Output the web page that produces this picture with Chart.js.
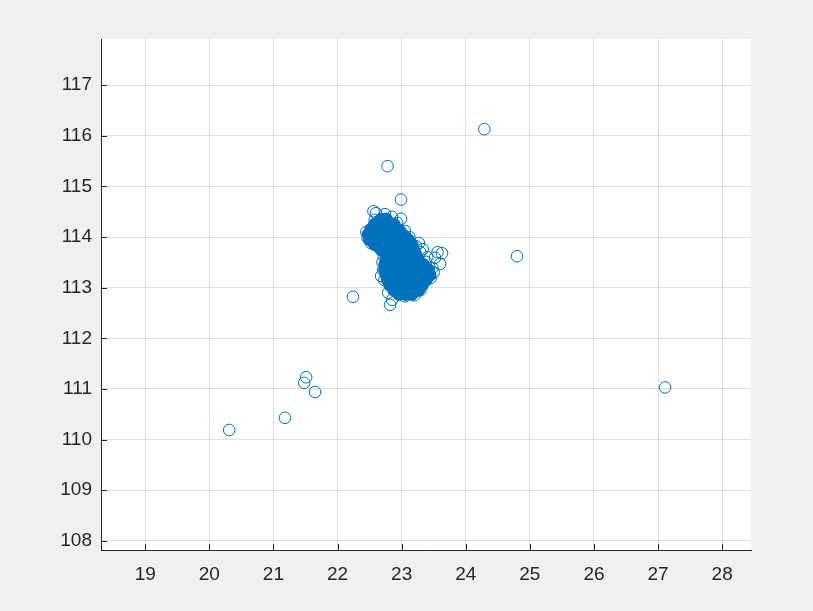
<!DOCTYPE html>
<html>
<head>
<meta charset="utf-8">
<script src="https://cdn.jsdelivr.net/npm/chart.js@4"></script>
<style>
  html, body { margin: 0; padding: 0; background: #f0f0f0; }
  canvas { display: block; }
</style>
</head>
<body>
<canvas id="c" width="813" height="611"></canvas>
<script>
// ---- Data ----
const xTicks = [19, 20, 21, 22, 23, 24, 25, 26, 27, 28];
const yTicks = [108, 109, 110, 111, 112, 113, 114, 115, 116, 117];

// isolated points
const outlierPoints = [
  [20.31, 110.19], [21.18, 110.43], [21.51, 111.23], [21.48, 111.12],
  [21.65, 110.94], [22.24, 112.82], [22.78, 115.40], [24.29, 116.13],
  [24.80, 113.62], [27.11, 111.03], [22.99, 114.74], [22.99, 114.36],
  [22.56, 114.51]
];

// rings along the rim of the dense cluster
const rimPoints = [
  [22.60, 114.47], [22.74, 114.45], [22.85, 114.40], [22.58, 114.34],
  [22.45, 114.10], [22.47, 113.98], [22.52, 113.88], [22.66, 113.78],
  [23.27, 113.88], [23.29, 113.70], [23.56, 113.70], [23.63, 113.68],
  [23.52, 113.59], [23.60, 113.47], [23.48, 113.39], [23.38, 113.51],
  [23.45, 113.19], [23.40, 113.60], [23.33, 113.76], [23.50, 113.30],
  [22.82, 112.66], [22.85, 112.76], [22.79, 112.90], [23.13, 112.88],
  [23.29, 112.95], [23.20, 112.85], [23.05, 112.83], [22.71, 113.35],
  [22.73, 113.15], [22.68, 113.23], [22.70, 113.50], [23.12, 114.00],
  [23.05, 114.12], [22.93, 114.28], [23.22, 113.82], [22.72, 113.62]
];

// solid core of the cluster
const corePoints = [
  [22.68, 114.35], [22.76, 114.35],
  [22.58, 114.25], [22.68, 114.25], [22.78, 114.25], [22.88, 114.25],
  [22.52, 114.15], [22.62, 114.15], [22.72, 114.15], [22.82, 114.15], [22.92, 114.15], [22.97, 114.12],
  [22.48, 114.05], [22.58, 114.05], [22.68, 114.05], [22.78, 114.05], [22.88, 114.05], [22.98, 114.05], [23.04, 114.02],
  [22.50, 113.95], [22.60, 113.95], [22.70, 113.95], [22.80, 113.95], [22.90, 113.95], [23.00, 113.95], [23.10, 113.95],
  [22.58, 113.85], [22.68, 113.85], [22.78, 113.85], [22.88, 113.85], [22.98, 113.85], [23.08, 113.85], [23.16, 113.85],
  [22.68, 113.75], [22.78, 113.75], [22.88, 113.75], [22.98, 113.75], [23.08, 113.75], [23.18, 113.75],
  [22.76, 113.65], [22.86, 113.65], [22.96, 113.65], [23.06, 113.65], [23.16, 113.65], [23.22, 113.65],
  [22.76, 113.55], [22.86, 113.55], [22.96, 113.55], [23.06, 113.55], [23.16, 113.55], [23.26, 113.55],
  [22.74, 113.45], [22.84, 113.45], [22.94, 113.45], [23.04, 113.45], [23.14, 113.45], [23.24, 113.45], [23.34, 113.45],
  [22.74, 113.35], [22.84, 113.35], [22.94, 113.35], [23.04, 113.35], [23.14, 113.35], [23.24, 113.35], [23.34, 113.35], [23.42, 113.35],
  [22.76, 113.25], [22.86, 113.25], [22.96, 113.25], [23.06, 113.25], [23.16, 113.25], [23.26, 113.25], [23.36, 113.25], [23.44, 113.25],
  [22.78, 113.15], [22.88, 113.15], [22.98, 113.15], [23.08, 113.15], [23.18, 113.15], [23.28, 113.15], [23.38, 113.15],
  [22.82, 113.05], [22.92, 113.05], [23.02, 113.05], [23.12, 113.05], [23.22, 113.05], [23.32, 113.05],
  [22.88, 112.95], [22.98, 112.95], [23.08, 112.95], [23.18, 112.95], [23.26, 112.95],
  [22.96, 112.87], [23.06, 112.87], [23.16, 112.87]
];

const toXY = arr => arr.map(p => ({ x: p[0], y: p[1] }));
const BLUE = '#0072BD';
const AXIS = '#262626';

const bgPlugin = {
  id: 'bg',
  beforeDraw(chart) {
    const { ctx, chartArea: a } = chart;
    ctx.save();
    ctx.fillStyle = '#f0f0f0';
    ctx.fillRect(0, 0, chart.width, chart.height);
    ctx.fillStyle = '#ffffff';
    ctx.fillRect(a.left, a.top, a.right - a.left, a.bottom - a.top);
    ctx.restore();
  }
};

const inwardTicks = {
  id: 'inwardTicks',
  afterDraw(chart) {
    const { ctx, chartArea: a, scales } = chart;
    ctx.save();
    ctx.strokeStyle = AXIS;
    ctx.lineWidth = 1;
    ctx.beginPath();
    xTicks.forEach(v => {
      const px = Math.round(scales.x.getPixelForValue(v)) + 0.5;
      ctx.moveTo(px, a.bottom);
      ctx.lineTo(px, a.bottom - 6);
    });
    yTicks.forEach(v => {
      const py = Math.round(scales.y.getPixelForValue(v)) + 0.5;
      ctx.moveTo(a.left, py);
      ctx.lineTo(a.left + 6, py);
    });
    ctx.stroke();
    ctx.restore();
  }
};

const tickFont = { family: "'Liberation Sans', Arial, Helvetica, sans-serif", size: 19 };

new Chart(document.getElementById('c'), {
  type: 'scatter',
  data: {
    datasets: [
      {
        data: toXY(corePoints),
        pointRadius: 6.2,
        borderWidth: 1,
        borderColor: BLUE,
        backgroundColor: BLUE
      },
      {
        data: toXY(rimPoints),
        pointRadius: 5.8,
        borderWidth: 1,
        borderColor: BLUE,
        backgroundColor: 'rgba(0,0,0,0)'
      },
      {
        data: toXY(outlierPoints),
        pointRadius: 5.8,
        borderWidth: 1,
        borderColor: BLUE,
        backgroundColor: 'rgba(0,0,0,0)'
      }
    ]
  },
  options: {
    responsive: false,
    animation: false,
    layout: { padding: { left: 0, top: 39, right: 62, bottom: 0 } },
    plugins: { legend: { display: false }, tooltip: { enabled: false } },
    scales: {
      x: {
        type: 'linear',
        min: 18.31,
        max: 28.45,
        afterBuildTicks: s => { s.ticks = xTicks.map(v => ({ value: v })); },
        afterFit: s => { s.height = 61; },
        grid: { color: 'rgba(38,38,38,0.15)', drawTicks: false },
        border: { display: true, color: AXIS, width: 1 },
        ticks: { font: tickFont, color: AXIS, padding: 13, maxRotation: 0, autoSkip: false }
      },
      y: {
        type: 'linear',
        min: 107.82,
        max: 117.91,
        afterBuildTicks: s => { s.ticks = yTicks.map(v => ({ value: v })); },
        afterFit: s => { s.width = 101; },
        grid: { color: 'rgba(38,38,38,0.15)', drawTicks: false },
        border: { display: true, color: AXIS, width: 1 },
        ticks: { font: tickFont, color: AXIS, padding: 9, autoSkip: false }
      }
    }
  },
  plugins: [bgPlugin, inwardTicks]
});
</script>
</body>
</html>
